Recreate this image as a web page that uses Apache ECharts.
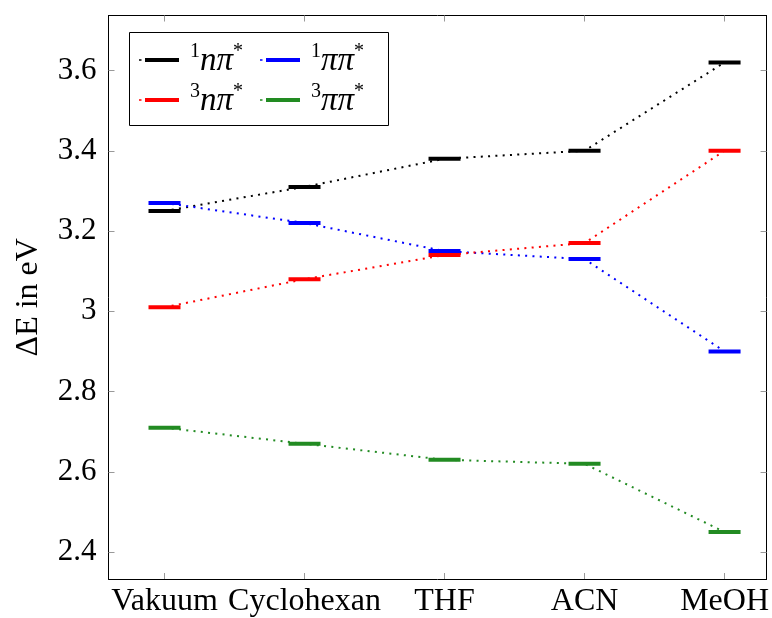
<!DOCTYPE html>
<html>
<head>
<meta charset="utf-8">
<script src="https://cdn.jsdelivr.net/npm/echarts@6/dist/echarts.min.js"></script>
<style>html,body{margin:0;padding:0;background:#fff;}#c{width:772px;height:618px;}</style>
</head>
<body>
<div id="c"></div>
<script>
const categories = ['Vakuum', 'Cyclohexan', 'THF', 'ACN', 'MeOH'];
const s1npi = [3.25, 3.31, 3.38, 3.40, 3.62];
const s1pipi = [3.27, 3.22, 3.15, 3.13, 2.90];
const s3npi = [3.01, 3.08, 3.14, 3.17, 3.40];
const s3pipi = [2.71, 2.67, 2.63, 2.62, 2.45];
const yTicks = [2.4, 2.6, 2.8, 3, 3.2, 3.4, 3.6];
const yTickLabels = ['2.4', '2.6', '2.8', '3', '3.2', '3.4', '3.6'];

const FONT = 'Liberation Serif';
const seriesDefs = [
  {name: 'n1', sup: '1', main: 'nπ', data: s1npi, color: '#000000'},
  {name: 'p1', sup: '1', main: 'ππ', data: s1pipi, color: '#0000ff'},
  {name: 'n3', sup: '3', main: 'nπ', data: s3npi, color: '#ff0000'},
  {name: 'p3', sup: '3', main: 'ππ', data: s3pipi, color: '#228b22'}
];
const legendPos = [[139, 42], [260, 42], [139, 82], [260, 82]];
const rich = {
  g: {width: 6, fontSize: 10, lineHeight: 36},
  sup: {fontSize: 20, fontFamily: FONT, lineHeight: 22, verticalAlign: 'top', color: '#000'},
  m: {fontSize: 33, fontFamily: FONT, fontStyle: 'italic', lineHeight: 36, verticalAlign: 'bottom', color: '#000'}
};

const chart = echarts.init(document.getElementById('c'), null, {renderer: 'canvas'});
const tickStyle = {show: true, inside: true, length: 6, lineStyle: {color: '#999', width: 1}};
const option = {
  animation: false,
  backgroundColor: '#fff',
  grid: {left: 108.5, top: 15.5, right: 2, bottom: 37.5, containLabel: false},
  xAxis: [{
    type: 'value', min: -0.4, max: 4.3, position: 'bottom',
    axisLine: {show: true, onZero: false, lineStyle: {color: '#000', width: 1}},
    axisTick: Object.assign({customValues: [0, 1, 2, 3, 4]}, tickStyle),
    axisLabel: {customValues: [0, 1, 2, 3, 4], formatter: v => categories[Math.round(v)], color: '#000', fontFamily: FONT, fontSize: 32, margin: 7},
    splitLine: {show: false}
  }, {
    type: 'value', min: -0.4, max: 4.3, position: 'top',
    axisLine: {show: true, onZero: false, lineStyle: {color: '#000', width: 1}},
    axisTick: Object.assign({customValues: [0, 1, 2, 3, 4]}, tickStyle),
    axisLabel: {show: false},
    splitLine: {show: false}
  }],
  yAxis: [{
    type: 'value', min: 2.333, max: 3.737, position: 'left',
    axisLine: {show: true, onZero: false, lineStyle: {color: '#000', width: 1}},
    axisTick: Object.assign({customValues: yTicks}, tickStyle),
    axisLabel: {customValues: yTicks, formatter: v => yTickLabels[yTicks.findIndex(t => Math.abs(t - v) < 1e-6)], color: '#000', fontFamily: FONT, fontSize: 31, margin: 12},
    splitLine: {show: false},
    name: 'ΔE in eV', nameLocation: 'middle', nameGap: 64, nameRotate: 90,
    nameTextStyle: {color: '#000', fontFamily: FONT, fontSize: 32}
  }, {
    type: 'value', min: 2.333, max: 3.737, position: 'right',
    axisLine: {show: true, onZero: false, lineStyle: {color: '#000', width: 1}},
    axisTick: Object.assign({customValues: yTicks}, tickStyle),
    axisLabel: {show: false},
    splitLine: {show: false}
  }],
  graphic: [{
    type: 'rect', z: 3, left: 129, top: 32,
    shape: {width: 259, height: 93},
    style: {fill: '#fff', stroke: '#000', lineWidth: 1}
  }],
  legend: seriesDefs.map((d, i) => ({
    data: [d.name], left: legendPos[i][0], top: legendPos[i][1], padding: 0, z: 5,
    icon: 'path://M0,1.25h2.5v1.5h-2.5z M6,0h34v4h-34z',
    itemWidth: 40, itemHeight: 4,
    selectedMode: false,
    formatter: () => '{g| }{sup|' + d.sup + '}{m|' + d.main + '}{sup|*}',
    textStyle: {rich: rich}
  })),
  series: seriesDefs.map(d => ({
    name: d.name, type: 'line',
    data: d.data.map((v, i) => [i, v]),
    symbol: 'rect', symbolSize: [32, 4], showSymbol: true, showAllSymbol: true,
    lineStyle: {color: d.color, width: 2, type: [2, 5.3], cap: 'butt'},
    itemStyle: {color: d.color},
    emphasis: {disabled: true}
  }))
};
chart.setOption(option);
</script>
</body>
</html>
